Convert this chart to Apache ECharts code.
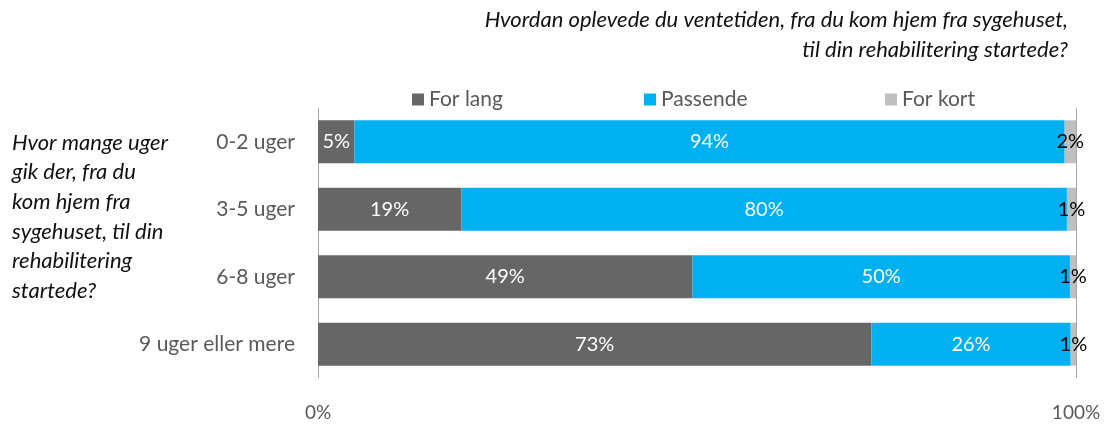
<!DOCTYPE html>
<html>
<head>
<meta charset="utf-8">
<script src="https://cdn.jsdelivr.net/npm/echarts@6/dist/echarts.min.js"></script>
<style>
  html, body { margin: 0; padding: 0; background: #fff; }
  #chart { width: 1104px; height: 425px; }
</style>
</head>
<body>
<div id="chart"></div>
<script>
// kategorier og andele (%)
const categories = ['0-2 uger', '3-5 uger', '6-8 uger', '9 uger eller mere']
const forLang = [4.8, 18.9, 49.4, 73.0]
const passende = [93.7, 79.9, 49.8, 26.3]
const forKort = [1.5, 1.2, 0.8, 0.7]
const xTicks = [0, 100]

const FONT = 'Lato'
const chart = echarts.init(document.getElementById('chart'))

const pct = p => Math.round(p.value) + '%'

function legendAt(name, left) {
  return {
    data: [name],
    left: left,
    top: 84,
    itemWidth: 12,
    itemHeight: 12,
    itemGap: 8,
    icon: 'rect',
    textStyle: { fontFamily: FONT, fontSize: 21, color: '#595959' }
  }
}

// titellinjer, højrestillet
function titleLine(text, top) {
  return {
    type: 'text',
    right: 36,
    top: top,
    style: { text: text, font: 'italic 22px Lato', fill: '#111' }
  }
}

const option = {
  animation: false,
  textStyle: { fontFamily: FONT },
  legend: [
    legendAt('For lang', 407),
    legendAt('Passende', 639),
    legendAt('For kort', 880)
  ],
  graphic: [
    titleLine('Hvordan oplevede du ventetiden, fra du kom hjem fra sygehuset,', 9),
    titleLine('til din rehabilitering startede?', 39),
    {
      type: 'text',
      left: 12,
      top: 128,
      style: {
        text: 'Hvor mange uger\ngik der, fra du\nkom hjem fra\nsygehuset, til din\nrehabilitering\nstartede?',
        font: 'italic 22px Lato',
        fill: '#111',
        lineHeight: 29.6
      }
    }
  ],
  grid: { left: 318, right: 28, top: 108, bottom: 47 },
  xAxis: {
    type: 'value',
    min: xTicks[0],
    max: xTicks[1],
    interval: 100,
    axisLine: { show: false },
    axisTick: { show: false },
    splitLine: { show: true, lineStyle: { color: '#a6a6a6', width: 1 } },
    axisLabel: {
      margin: 25, fontFamily: FONT, fontSize: 19, color: '#595959',
      formatter: v => v + '%'
    }
  },
  yAxis: {
    type: 'category',
    data: categories,
    inverse: true,
    axisTick: { show: false },
    axisLine: { show: true, lineStyle: { color: '#a6a6a6', width: 1 } },
    axisLabel: { margin: 23, fontFamily: FONT, fontSize: 21, color: '#595959' }
  },
  series: [
    {
      name: 'For lang', type: 'bar', stack: 'a', data: forLang, barWidth: 43,
      itemStyle: { color: '#666666' },
      label: { show: true, position: 'inside', color: '#fff', fontFamily: FONT, fontSize: 20, formatter: pct }
    },
    {
      name: 'Passende', type: 'bar', stack: 'a', data: passende, barWidth: 43,
      itemStyle: { color: '#00b0f0' },
      label: { show: true, position: 'inside', color: '#fff', fontFamily: FONT, fontSize: 20, formatter: pct }
    },
    {
      name: 'For kort', type: 'bar', stack: 'a', data: forKort, barWidth: 43,
      itemStyle: { color: '#bfbfbf' },
      label: { show: true, position: 'inside', color: '#000', fontFamily: FONT, fontSize: 20, formatter: pct }
    }
  ]
}

chart.setOption(option)
</script>
</body>
</html>
